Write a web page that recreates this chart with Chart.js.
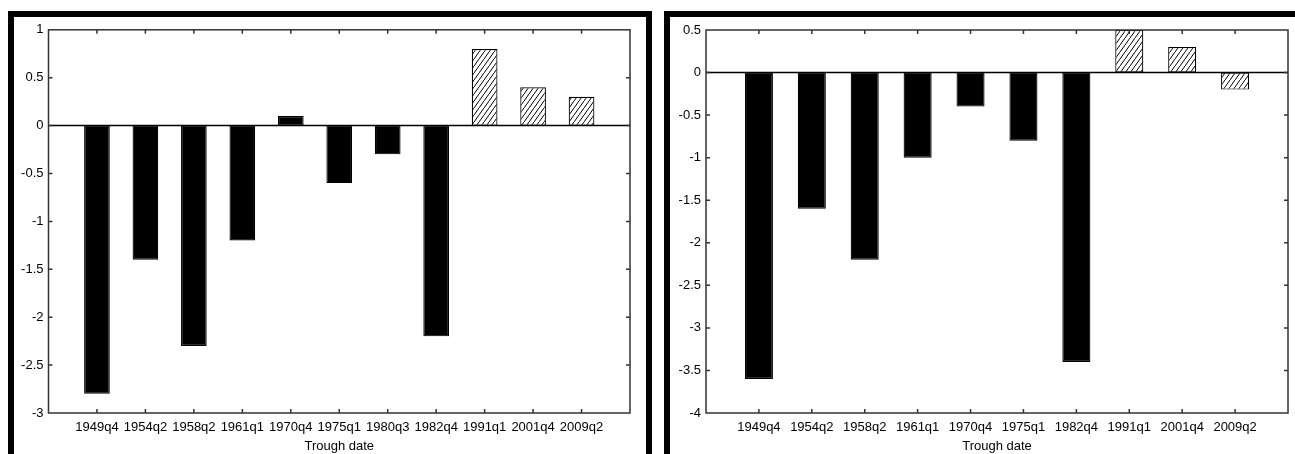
<!DOCTYPE html>
<html>
<head>
<meta charset="utf-8">
<script src="https://cdn.jsdelivr.net/npm/chart.js@4.4.0/dist/chart.umd.min.js"></script>
<style>
  html, body { margin: 0; padding: 0; background: #fff; overflow: hidden; }
  .panel { position: absolute; border: 6px solid #000; box-sizing: border-box; background: #fff; }
  #panelA { left: 8px; top: 11px; width: 644px; height: 460px; }
  #panelB { left: 664px; top: 11px; width: 660px; height: 460px; }
  canvas { display: block; }
</style>
</head>
<body>
<div class="panel" id="panelA"><canvas id="chartA" width="632" height="437"></canvas></div>
<div class="panel" id="panelB"><canvas id="chartB" width="625" height="437"></canvas></div>
<script>
// Datos
const troughsA = ['1949q4', '1954q2', '1958q2', '1961q1', '1970q4', '1975q1', '1980q3', '1982q4', '1991q1', '2001q4', '2009q2'];
const valuesA = [-2.8, -1.4, -2.3, -1.2, 0.1, -0.6, -0.3, -2.2, 0.8, 0.4, 0.3];

const troughsB = ['1949q4', '1954q2', '1958q2', '1961q1', '1970q4', '1975q1', '1982q4', '1991q1', '2001q4', '2009q2'];
const valuesB = [-3.6, -1.6, -2.2, -1.0, -0.4, -0.8, -3.4, 0.5, 0.3, -0.2];

const hatchedTroughs = ['1991q1', '2001q4', '2009q2'];

const yRangeA = [-3, 1];
const yRangeB = [-4, 0.5];
const yStep = 0.5;

const FONT = "'Liberation Sans', Arial, sans-serif";

function hatchPattern() {
    const c = document.createElement('canvas');
    c.width = 5; c.height = 7;
    const g = c.getContext('2d');
    g.fillStyle = '#fff';
    g.fillRect(0, 0, 5, 7);
    g.strokeStyle = '#000';
    g.lineWidth = 1;
    g.beginPath();
    g.moveTo(-1, 7 + 7 / 5); g.lineTo(6, -7 / 5);
    g.stroke();
    return g.createPattern(c, 'repeat');
}

// Marco tipo MATLAB: caja, linea de cero y marcas hacia dentro
const matlabBox = {
    id: 'matlabBox',
    afterDatasetsDraw(chart) {
        const { ctx, chartArea: a, scales: { x, y } } = chart;
        ctx.save();
        ctx.lineWidth = 1.5;
        ctx.strokeStyle = '#000';
        const y0 = y.getPixelForValue(0);
        ctx.beginPath();
        ctx.moveTo(a.left, y0); ctx.lineTo(a.right, y0);
        ctx.stroke();

        ctx.strokeStyle = '#333';
        ctx.strokeRect(a.left, a.top, a.right - a.left, a.bottom - a.top);
        ctx.beginPath();
        x.ticks.forEach(t => {
            if (t.value <= x.min || t.value >= x.max) return;
            const px = x.getPixelForValue(t.value);
            ctx.moveTo(px, a.bottom); ctx.lineTo(px, a.bottom - 4);
            ctx.moveTo(px, a.top); ctx.lineTo(px, a.top + 4);
        });
        y.ticks.forEach(t => {
            if (t.value <= y.min || t.value >= y.max) return;
            const py = y.getPixelForValue(t.value);
            ctx.moveTo(a.left, py); ctx.lineTo(a.left + 4, py);
            ctx.moveTo(a.right, py); ctx.lineTo(a.right - 4, py);
        });
        ctx.stroke();
        ctx.restore();
    }
};

function makeChart(id, troughs, values, yRange, yWidth, pad) {
    const hatch = hatchPattern();
    const ctx = document.getElementById(id).getContext('2d');
    return new Chart(ctx, {
        type: 'bar',
        data: {
            datasets: [{
                data: values.map((v, i) => ({ x: i + 1, y: v })),
                backgroundColor: troughs.map(t => hatchedTroughs.includes(t) ? hatch : '#000'),
                borderColor: '#000',
                borderWidth: 1.2,
                borderSkipped: false,
                barPercentage: 0.53,
                categoryPercentage: 1
            }]
        },
        options: {
            responsive: false,
            animation: false,
            layout: { padding: pad },
            plugins: { legend: { display: false }, tooltip: { enabled: false } },
            scales: {
                x: {
                    type: 'linear',
                    offset: false,
                    min: 0,
                    max: troughs.length + 1,
                    grid: { display: false, drawTicks: false, offset: false },
                    border: { display: false },
                    ticks: {
                        stepSize: 1,
                        autoSkip: false,
                        maxRotation: 0,
                        padding: 7,
                        color: '#000',
                        font: { family: FONT, size: 13 },
                        callback: v => troughs[v - 1] || ''
                    },
                    title: {
                        display: true,
                        text: 'Trough date',
                        color: '#000',
                        font: { family: FONT, size: 13 },
                        padding: { top: 0, bottom: 0 }
                    },
                    afterFit: s => { s.height = 41; }
                },
                y: {
                    min: yRange[0],
                    max: yRange[1],
                    grid: { display: false, drawTicks: false },
                    border: { display: false },
                    ticks: {
                        stepSize: yStep,
                        padding: 5,
                        color: '#000',
                        font: { family: FONT, size: 13 },
                        callback: v => String(Number(v.toFixed(1)))
                    },
                    afterFit: s => { s.width = yWidth; }
                }
            }
        },
        plugins: [matlabBox]
    });
}

makeChart('chartA', troughsA, valuesA, yRangeA, 34.5, { left: 0, right: 16, top: 12, bottom: 0 });
makeChart('chartB', troughsB, valuesB, yRangeB, 36, { left: 0, right: 5, top: 13, bottom: 0 });
</script>
</body>
</html>
